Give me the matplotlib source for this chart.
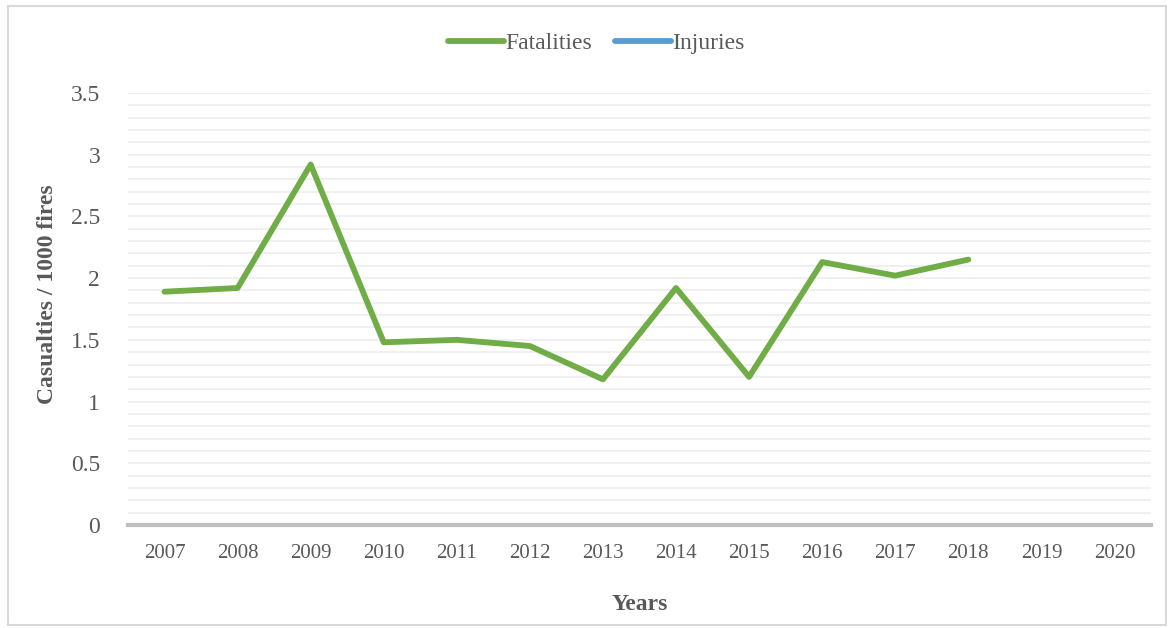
import numpy as np
import matplotlib
matplotlib.use("Agg")
import matplotlib.pyplot as plt
from matplotlib.patches import Rectangle

years = ["2007", "2008", "2009", "2010", "2011", "2012", "2013",
         "2014", "2015", "2016", "2017", "2018", "2019", "2020"]
fatalities = [1.89, 1.92, 2.92, 1.48, 1.50, 1.45, 1.18,
              1.92, 1.20, 2.13, 2.02, 2.15, np.nan, np.nan]
injuries = [np.nan] * len(years)
y_ticks = [0, 0.5, 1, 1.5, 2, 2.5, 3, 3.5]
y_tick_labels = ["0", "0.5", "1", "1.5", "2", "2.5", "3", "3.5"]

plt.rcParams["font.family"] = ["Liberation Serif", "DejaVu Serif"]
text_color = "#595959"

fig = plt.figure(figsize=(11.74, 6.28), dpi=100)
ax = fig.add_axes([0.109, 0.164, 0.8714, 0.688])

x = np.arange(len(years))
ax.plot(x, fatalities, color="#70AD47", lw=4.2, solid_capstyle="round",
        solid_joinstyle="round", label="Fatalities", zorder=3)
ax.plot(x, injuries, color="#5B9BD5", lw=4.2, solid_capstyle="round",
        label="Injuries", zorder=3)

ax.set_xlim(-0.5, len(years) - 0.5)
ax.set_ylim(0, 3.5)
ax.set_xticks(x)
ax.set_xticklabels(years)
ax.set_yticks(y_ticks)
ax.set_yticklabels(y_tick_labels)
ax.set_yticks(np.arange(0, 3.51, 0.1), minor=True)
ax.grid(axis="y", which="both", color="#EDEDED", lw=1.2, zorder=0)

for s in ["top", "right", "left"]:
    ax.spines[s].set_visible(False)
ax.spines["bottom"].set_color("#BFBFBF")
ax.spines["bottom"].set_linewidth(3)
ax.spines["bottom"].set_zorder(2)

ax.tick_params(axis="x", length=0, pad=14, labelsize=15, labelcolor=text_color)
ax.tick_params(axis="y", which="both", length=0, pad=20, labelsize=17,
               labelcolor=text_color)

ax.set_xlabel("Years", fontsize=17, fontweight="bold", color=text_color,
              labelpad=22)
ax.set_ylabel("Casualties / 1000 fires", fontsize=17, fontweight="bold",
              color=text_color)
ax.yaxis.set_label_coords(-0.068, 0.535)

leg = fig.legend(loc="center", bbox_to_anchor=(0.508, 0.931), ncol=2,
                 frameon=False, fontsize=17, handlelength=2.35,
                 handletextpad=0.05, columnspacing=1.0)
for t in leg.get_texts():
    t.set_color(text_color)

fig.patches.append(Rectangle((0.0068, 0.005), 0.9864, 0.985,
                             transform=fig.transFigure, fill=False,
                             edgecolor="#D9D9D9", lw=1.5))

fig.savefig("out.png", dpi=100)
